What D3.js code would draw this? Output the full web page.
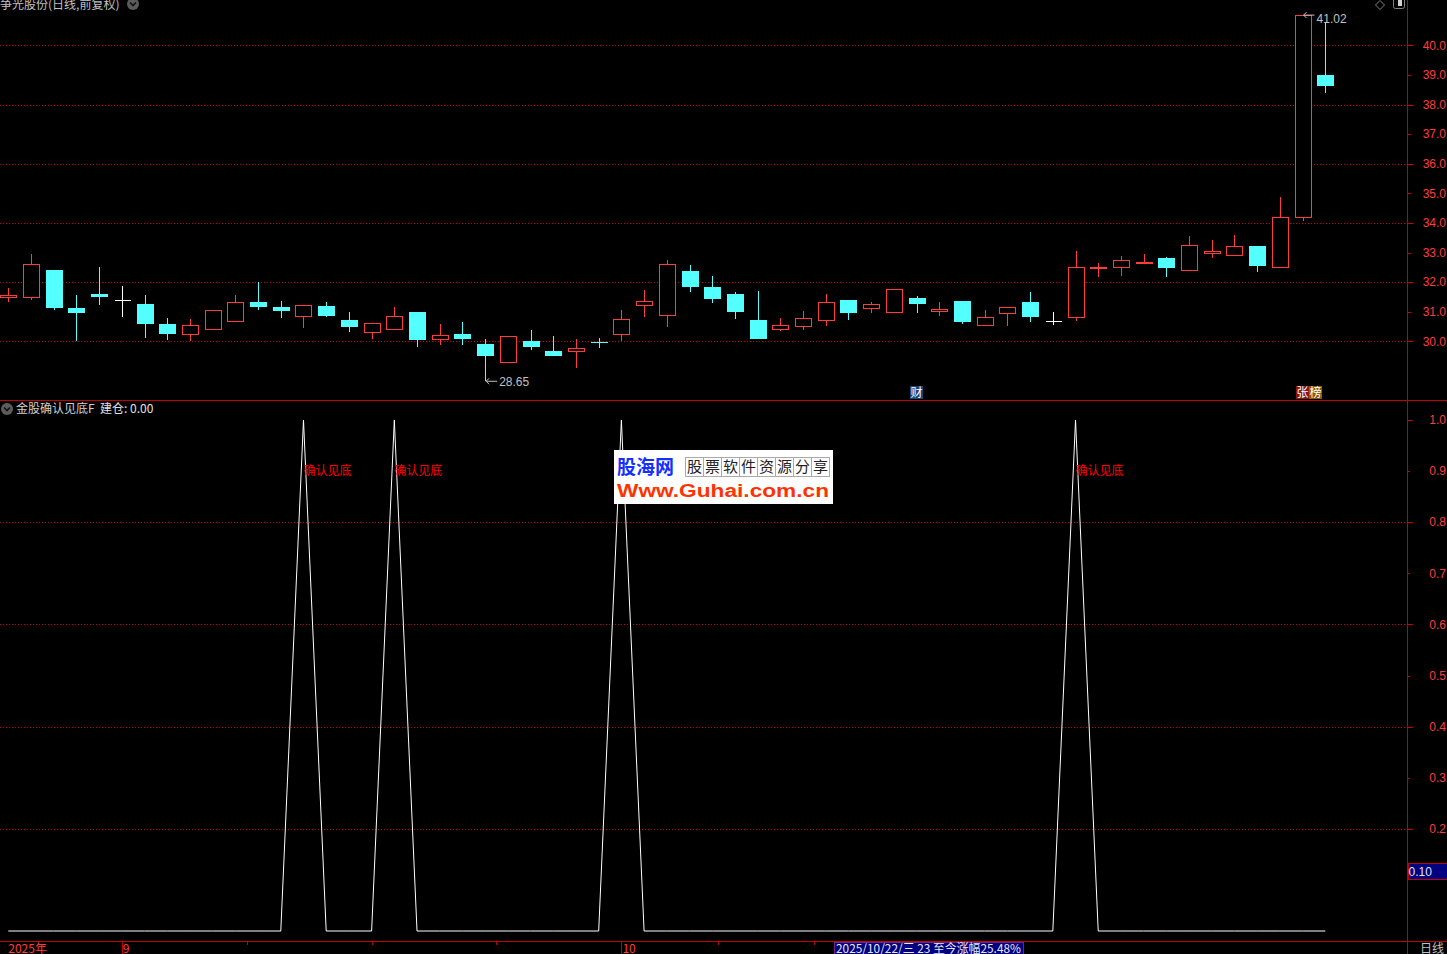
<!DOCTYPE html>
<html><head><meta charset="utf-8">
<script src="https://cdn.jsdelivr.net/npm/d3@7"></script>
<style>
html,body{margin:0;padding:0;background:#000;overflow:hidden}
svg{display:block}
text{font-family:"Noto Sans CJK SC","Liberation Sans",sans-serif}
</style></head><body>
<script>
// ---- data ----
const opens  = [31.49,31.51,32.42,31.13,31.60,31.39,31.26,30.59,30.26,30.41,30.68,31.33,31.16,30.87,31.20,30.72,30.33,30.41,30.99,30.09,30.25,29.91,29.31,30.01,29.67,29.66,29.98,30.26,31.21,30.90,32.38,31.84,31.60,30.72,30.41,30.53,30.71,31.40,31.14,31.00,31.47,31.04,31.37,30.54,30.95,31.33,30.68,30.81,32.50,32.51,32.63,32.82,32.41,33.00,32.90,33.23,32.51,34.19,38.99];
const highs  = [31.80,32.96,32.42,31.57,32.52,31.87,31.57,30.79,30.76,31.05,31.57,32.01,31.37,31.22,31.33,30.99,30.61,31.16,30.99,30.59,30.65,30.08,30.17,30.38,30.18,30.08,30.11,31.06,31.74,32.76,32.59,32.21,31.67,31.71,30.79,31.03,31.60,31.40,31.33,31.76,31.54,31.33,31.37,31.06,31.15,31.67,31.00,33.06,32.64,32.89,32.96,32.85,33.57,33.43,33.60,33.23,34.89,41.02,40.79];
const lows   = [31.34,31.38,31.06,30.01,31.24,30.83,30.12,30.05,30.02,30.41,30.68,31.07,30.80,30.46,30.83,30.33,30.09,30.41,29.82,29.88,29.88,28.65,29.31,29.71,29.51,29.11,29.78,30.02,30.82,30.49,31.65,31.31,30.77,30.09,30.36,30.39,30.53,30.73,30.94,31.00,30.94,30.87,30.60,30.54,30.53,30.66,30.56,30.70,32.16,32.21,32.63,32.16,32.41,32.80,32.90,32.33,32.51,34.05,38.39];
const closes = [31.56,32.61,31.13,30.97,31.48,31.39,30.60,30.26,30.54,31.05,31.32,31.17,31.04,31.22,30.87,30.49,30.61,30.85,30.05,30.20,30.09,29.51,30.17,29.82,29.51,29.76,29.96,30.75,31.36,32.61,31.85,31.44,31.00,30.09,30.54,30.78,31.32,30.97,31.25,31.76,31.27,31.08,30.66,30.81,31.15,30.83,30.68,32.51,32.52,32.75,32.68,32.46,33.25,33.05,33.22,32.55,34.20,41.02,38.63];
const signal = [0,0,0,0,0,0,0,0,0,0,0,0,0,1,0,0,0,1,0,0,0,0,0,0,0,0,0,1,0,0,0,0,0,0,0,0,0,0,0,0,0,0,0,0,0,0,0,1,0,0,0,0,0,0,0,0,0,0,0];
const priceTicks = [30,31,32,33,34,35,36,37,38,39,40];
const priceGrid  = [30,32,34,36,38,40];
const indTicks   = [0.2,0.3,0.4,0.5,0.6,0.7,0.8,0.9,1.0];
const indGrid    = [0.2,0.4,0.6,0.8];
const monthIdx    = [0,5,27,44];
const monthLabels = ["2025年","9","10",""];
const markers = [{i:40,t:["财"]},{i:57,t:["张","榜"]}];

const W=1447,H=954;
const RED="#ff3c3c", CYAN="#54ffff", AX="#c40000", GRID="#d00000", GRAY="#c0c0c0";

const svg=d3.select("body").append("svg").attr("width",W).attr("height",H)
  .style("background","#000");

const x=d3.scaleLinear().domain([0,closes.length-1]).range([8.3,1325.3]);
const yP=d3.scaleLinear().domain([30,40]).range([341.3,45.3]);
const yI=d3.scaleLinear().domain([0,1]).range([931,420]);
const AXX=1407.5;
const px=v=>Math.round(v)+0.5;

// grids
const g0=svg.append("g").attr("shape-rendering","crispEdges");
g0.selectAll(".gp").data(priceGrid).join("line")
  .attr("x1",0).attr("x2",AXX-1).attr("y1",d=>px(yP(d))).attr("y2",d=>px(yP(d)))
  .attr("stroke",GRID).attr("stroke-dasharray","1,2");
g0.selectAll(".gi").data(indGrid).join("line")
  .attr("x1",0).attr("x2",AXX-1).attr("y1",d=>px(yI(d))).attr("y2",d=>px(yI(d)))
  .attr("stroke",GRID).attr("stroke-dasharray","1,2");

// frame lines
g0.append("line").attr("x1",0).attr("x2",W).attr("y1",400.5).attr("y2",400.5).attr("stroke",AX);
g0.append("line").attr("x1",0).attr("x2",W).attr("y1",941.5).attr("y2",941.5).attr("stroke",AX);
g0.append("line").attr("x1",AXX).attr("x2",AXX).attr("y1",0).attr("y2",H).attr("stroke",AX);

// price axis
const ax=svg.append("g");
ax.selectAll("line").data(priceTicks).join("line").attr("shape-rendering","crispEdges")
  .attr("x1",AXX).attr("x2",d=>AXX+(d%2===0?6:3)).attr("y1",d=>px(yP(d))).attr("y2",d=>px(yP(d)))
  .attr("stroke",AX);
ax.selectAll("text").data(priceTicks).join("text")
  .attr("x",1446).attr("y",d=>yP(d)).attr("dy","0.35em").attr("text-anchor","end")
  .attr("fill",RED).attr("font-size",12).style("font-family","Liberation Sans, Arial, sans-serif")
  .text(d=>d3.format(".1f")(d));

// indicator axis
const bx=svg.append("g");
bx.selectAll("line").data(indTicks).join("line").attr("shape-rendering","crispEdges")
  .attr("x1",AXX).attr("x2",d=>AXX+((Math.round(d*10)%2===0)?5:2)).attr("y1",d=>px(yI(d))).attr("y2",d=>px(yI(d)))
  .attr("stroke",AX);
bx.selectAll("text").data(indTicks).join("text")
  .attr("x",1446).attr("y",d=>yI(d)).attr("dy","0.35em").attr("text-anchor","end")
  .attr("fill",RED).attr("font-size",12).style("font-family","Liberation Sans, Arial, sans-serif")
  .text(d=>d3.format(".1f")(d));
// current value box
const cv=0.1;
bx.append("rect").attr("x",AXX+0.5).attr("y",yI(cv)-16.5).attr("width",W-AXX).attr("height",16)
  .attr("fill","#000080").attr("stroke",AX).attr("shape-rendering","crispEdges");
bx.append("text").attr("x",AXX+1).attr("y",yI(cv)-8.5).attr("dy","0.35em").attr("fill","#e0e0e0")
  .attr("font-size",12).style("font-family","Liberation Sans, Arial, sans-serif").text(d3.format(".2f")(cv));

// candles
const bw=16;
const cg=svg.append("g").attr("shape-rendering","crispEdges");
closes.forEach((c,i)=>{
  const o=opens[i],h=highs[i],l=lows[i];
  const cx=px(x(i));
  const left=Math.round(x(i)-bw/2)+0.5;
  if(c>o){
    const top=Math.round(yP(c))+0.5, bot=Math.round(yP(o))+0.5;
    if(yP(h)<top) cg.append("line").attr("x1",cx).attr("x2",cx).attr("y1",yP(h)).attr("y2",top).attr("stroke",RED);
    if(yP(l)>bot) cg.append("line").attr("x1",cx).attr("x2",cx).attr("y1",bot).attr("y2",yP(l)).attr("stroke",RED);
    cg.append("rect").attr("x",left).attr("y",top).attr("width",bw).attr("height",Math.max(1,bot-top))
      .attr("fill","#000").attr("stroke",RED).attr("stroke-width",1);
  } else if(c<o){
    const top=Math.round(yP(o)), bot=Math.round(yP(c));
    cg.append("line").attr("x1",cx).attr("x2",cx).attr("y1",yP(h)).attr("y2",yP(l)).attr("stroke",CYAN);
    cg.append("rect").attr("x",left-0.5).attr("y",top).attr("width",bw+1).attr("height",Math.max(1,bot-top))
      .attr("fill",CYAN);
  } else {
    cg.append("line").attr("x1",cx).attr("x2",cx).attr("y1",yP(h)).attr("y2",yP(l)).attr("stroke","#fff");
    cg.append("line").attr("x1",left).attr("x2",left+bw).attr("y1",px(yP(c))).attr("y2",px(yP(c))).attr("stroke","#fff");
  }
});

// min / max annotations
const iMin=d3.minIndex(lows), iMax=d3.maxIndex(highs);
function annot(i,v,dyText){
  const ax0=x(i), ay=yP(v);
  const a=svg.append("g").attr("stroke",GRAY).attr("fill","none");
  a.append("path").attr("d",`M${ax0+1},${ay} L${ax0+12},${ay} M${ax0+1},${ay} L${ax0+4},${ay-3} M${ax0+1},${ay} L${ax0+4},${ay+3}`);
  svg.append("text").attr("x",ax0+14).attr("y",ay+dyText).attr("dy","0.35em").attr("fill",GRAY)
    .attr("font-size",12).style("font-family","Liberation Sans, Arial, sans-serif").text(d3.format(".2f")(v));
}
annot(iMin,lows[iMin],1);
annot(iMax,highs[iMax],4);

// markers
markers.forEach(m=>{
  const fills=m.t.length>1?["#8e1212","#8a5a08"]:["#17457a"];
  m.t.forEach((t,k)=>{
    const x0=Math.round(x(m.i))-7+k*13;
    svg.append("rect").attr("x",x0).attr("y",386).attr("width",13).attr("height",13).attr("fill",fills[k]);
    svg.append("text").attr("x",x0+6.5).attr("y",392.5).attr("dy","0.36em").attr("text-anchor","middle")
      .attr("fill","#fff").attr("font-size",12).text(t);
  });
});

// indicator line
const line=d3.line().x((d,i)=>x(i)).y(d=>yI(d));
svg.append("path").datum(signal).attr("d",line).attr("fill","none").attr("stroke","#fff").attr("stroke-width",1);
signal.forEach((s,i)=>{ if(s===1){
  svg.append("text").attr("x",x(i)).attr("y",yI(0.9)).attr("dy","0.35em").attr("fill","#ff0000")
    .attr("font-size",12).text("确认见底");
}});

// watermark
const wm=svg.append("g");
wm.append("rect").attr("x",614).attr("y",450).attr("width",219).attr("height",54).attr("fill","#fff");
wm.append("text").attr("x",617).attr("y",474).attr("fill","#1530ff").attr("font-size",19).attr("font-weight","bold").text("股海网");
const wchars="股票软件资源分享".split("");
wchars.forEach((c,k)=>{
  const x0=685+k*18;
  wm.append("rect").attr("x",x0+0.5).attr("y",457.5).attr("width",18).attr("height",19).attr("fill","none").attr("stroke","#aaa").attr("shape-rendering","crispEdges");
  wm.append("text").attr("x",x0+9.5).attr("y",467).attr("dy","0.36em").attr("text-anchor","middle").attr("fill","#222").attr("font-size",15).text(c);
});
wm.append("text").attr("x",617).attr("y",497).attr("fill","#ff3300").attr("font-size",18).attr("font-weight","bold")
  .style("font-family","Liberation Sans, Arial, sans-serif").attr("textLength",212).attr("lengthAdjust","spacingAndGlyphs").text("Www.Guhai.com.cn");

// x axis
const xa=svg.append("g").attr("shape-rendering","crispEdges");
monthIdx.forEach((mi,k)=>{
  if(k>0) xa.append("line").attr("x1",px(x(mi))).attr("x2",px(x(mi))).attr("y1",941).attr("y2",H).attr("stroke",AX);
  if(monthLabels[k]) xa.append("text").attr("x",k===0?x(mi):x(mi)+1).attr("y",953).attr("fill",RED).attr("font-size",12).text(monthLabels[k]);
  if(k>0 && k<monthIdx.length-1){
    const a=x(mi), b=x(monthIdx[k+1]);
    [0.25,0.5,0.75].forEach(f=>{
      xa.append("line").attr("x1",px(a+(b-a)*f)).attr("x2",px(a+(b-a)*f)).attr("y1",941).attr("y2",945).attr("stroke",AX);
    });
  }
});
// footer info box
svg.append("rect").attr("x",834.5).attr("y",942.5).attr("width",189).attr("height",13).attr("fill","#000080").attr("stroke","#7a2080").attr("shape-rendering","crispEdges");
svg.append("text").attr("x",836).attr("y",953).attr("fill","#e6e6e6").attr("font-size",12).attr("textLength",185).attr("lengthAdjust","spacingAndGlyphs").text("2025/10/22/三 23 至今涨幅25.48%");
svg.append("text").attr("x",1420).attr("y",953).attr("fill",GRAY).attr("font-size",12).text("日线");

// titles
svg.append("text").attr("x",0).attr("y",9).attr("fill",GRAY).attr("font-size",12).text("争光股份(日线,前复权)");
function chev(cx,cy){
  svg.append("circle").attr("cx",cx).attr("cy",cy).attr("r",6).attr("fill","#5c5c5c");
  svg.append("path").attr("d",`M${cx-3},${cy-1.5} L${cx},${cy+1.5} L${cx+3},${cy-1.5}`).attr("stroke","#111").attr("stroke-width",1.6).attr("fill","none");
}
chev(133,4);
chev(7,409);
svg.append("text").attr("x",16).attr("y",409).attr("dy","0.35em").attr("fill","#d0d0d0").attr("font-size",12).text("金股确认见底F");
svg.append("text").attr("x",100).attr("y",409).attr("dy","0.35em").attr("fill","#e0e0e0").attr("font-size",12).text("建仓: 0.00");

// top-right icons
svg.append("path").attr("d","M1380,0.5 L1384.5,5 L1380,9.5 L1375.5,5 Z").attr("fill","none").attr("stroke","#808080");
svg.append("rect").attr("x",1393.5).attr("y",-2.5).attr("width",11).attr("height",11).attr("rx",2).attr("fill","none").attr("stroke","#808080");
svg.append("rect").attr("x",1398).attr("y",0).attr("width",4).attr("height",6).attr("fill","#d0d0d0");
</script>
</body></html>
